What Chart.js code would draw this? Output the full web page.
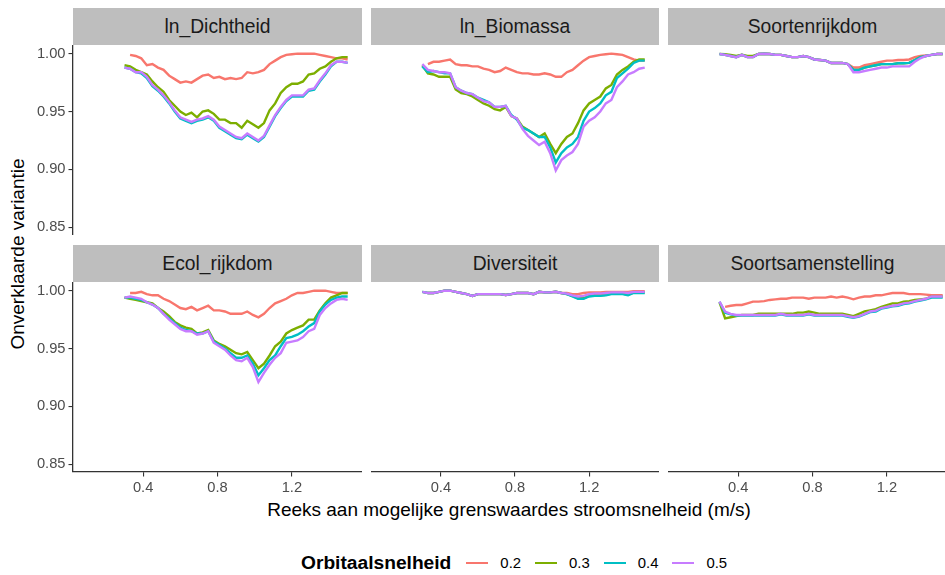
<!DOCTYPE html>
<html>
<head>
<meta charset="utf-8">
<script src="https://cdn.jsdelivr.net/npm/chart.js@4.4.1/dist/chart.umd.min.js"></script>
<style>
  html, body { margin: 0; padding: 0; background: #ffffff; }
  body { width: 945px; height: 575px; position: relative; overflow: hidden;
         font-family: "Liberation Sans", Arial, sans-serif; }
  .panel { position: absolute; }
  .strip { position: absolute; height: 37px; line-height: 37px; background: #bebebe;
           color: #1a1a1a; font-size: 19.3px; text-align: center; white-space: nowrap; overflow: hidden; }
  #ytitle { position: absolute; left: 18px; top: 254px; font-size: 19px; color: #000;
            white-space: nowrap; transform: translate(-50%, -50%) rotate(-90deg); }
  #xtitle { position: absolute; left: 509px; top: 510px; font-size: 19px; color: #000;
            white-space: nowrap; transform: translate(-50%, -50%); }
  #legend { position: absolute; left: 301px; top: 552px; height: 22px; display: flex; align-items: center; }
  #legend .ltitle { font-weight: bold; font-size: 19.2px; color: #000; margin-right: 15px; }
  #legend .key { width: 22px; height: 2.6px; margin-right: 12px; }
  #legend .lab { font-size: 14.9px; color: #000; margin-right: 14px; }
</style>
</head>
<body>
<div id="ytitle">Onverklaarde variantie</div>
<div id="xtitle">Reeks aan mogelijke grenswaardes stroomsnelheid (m/s)</div>
<div id="legend"></div>

<script>
// grens (m/s) at which every curve is evaluated
const grens = [0.30, 0.33, 0.36, 0.39, 0.42, 0.45, 0.48, 0.51, 0.54, 0.57,
               0.60, 0.63, 0.66, 0.69, 0.72, 0.75, 0.78, 0.81, 0.84, 0.87,
               0.90, 0.93, 0.96, 0.99, 1.02, 1.05, 1.08, 1.11, 1.14, 1.17,
               1.20, 1.23, 1.26, 1.29, 1.32, 1.35, 1.38, 1.41, 1.44, 1.47, 1.50];

const orbitaal = ['0.2', '0.3', '0.4', '0.5'];
const kleuren = ['#F8766D', '#7CAE00', '#00BFC4', '#C77CFF'];
const xTicks = [0.4, 0.8, 1.2];
const yTicks = [0.85, 0.90, 0.95, 1.00];

// ln_Dichtheid
const dicht02 = [null, 0.999, 0.998, 0.996, 0.990, 0.991, 0.988, 0.986, 0.981, 0.978, 0.975, 0.976, 0.975, 0.978, 0.981, 0.982, 0.979, 0.980, 0.978, 0.979, 0.978, 0.979, 0.984, 0.983, 0.984, 0.986, 0.991, 0.994, 0.997, 0.999, 0.9995, 1.000, 1.000, 1.000, 1.000, 0.999, 0.998, 0.997, 0.996, 0.996, 0.995];
const dicht03 = [0.990, 0.989, 0.986, 0.984, 0.982, 0.976, 0.971, 0.967, 0.960, 0.955, 0.950, 0.947, 0.949, 0.945, 0.950, 0.951, 0.948, 0.943, 0.943, 0.940, 0.940, 0.936, 0.942, 0.939, 0.936, 0.940, 0.951, 0.957, 0.966, 0.971, 0.974, 0.974, 0.976, 0.982, 0.983, 0.987, 0.989, 0.993, 0.996, 0.997, 0.997];
const dicht04 = [0.988, 0.987, 0.984, 0.983, 0.979, 0.972, 0.968, 0.963, 0.957, 0.950, 0.944, 0.942, 0.940, 0.942, 0.943, 0.945, 0.942, 0.936, 0.933, 0.930, 0.927, 0.926, 0.930, 0.927, 0.924, 0.928, 0.937, 0.946, 0.953, 0.959, 0.963, 0.963, 0.963, 0.968, 0.969, 0.976, 0.982, 0.989, 0.993, 0.993, 0.992];
const dicht05 = [0.988, 0.987, 0.984, 0.984, 0.980, 0.973, 0.969, 0.964, 0.958, 0.951, 0.945, 0.943, 0.941, 0.943, 0.944, 0.946, 0.943, 0.937, 0.934, 0.931, 0.928, 0.927, 0.931, 0.928, 0.925, 0.929, 0.938, 0.947, 0.954, 0.960, 0.964, 0.964, 0.964, 0.969, 0.970, 0.977, 0.983, 0.990, 0.993, 0.993, 0.992];

// ln_Biomassa
const bio02 = [null, 0.991, 0.993, 0.993, 0.994, 0.995, 0.991, 0.990, 0.990, 0.989, 0.989, 0.987, 0.986, 0.984, 0.985, 0.988, 0.986, 0.984, 0.983, 0.983, 0.982, 0.982, 0.983, 0.982, 0.980, 0.980, 0.984, 0.986, 0.990, 0.994, 0.997, 0.998, 0.999, 0.9995, 1.000, 0.9995, 0.999, 0.997, 0.995, 0.994, 0.994];
const bio03 = [0.990, 0.983, 0.982, 0.980, 0.980, 0.980, 0.969, 0.966, 0.965, 0.963, 0.960, 0.957, 0.955, 0.952, 0.951, 0.954, 0.946, 0.944, 0.937, 0.934, 0.931, 0.928, 0.931, 0.922, 0.914, 0.922, 0.928, 0.931, 0.940, 0.951, 0.957, 0.960, 0.963, 0.970, 0.973, 0.982, 0.986, 0.989, 0.993, 0.995, 0.995];
const bio04 = [0.989, 0.984, 0.985, 0.984, 0.983, 0.983, 0.971, 0.968, 0.966, 0.965, 0.962, 0.960, 0.958, 0.954, 0.954, 0.955, 0.947, 0.943, 0.936, 0.934, 0.931, 0.928, 0.928, 0.919, 0.906, 0.914, 0.919, 0.922, 0.928, 0.942, 0.950, 0.953, 0.957, 0.964, 0.967, 0.979, 0.983, 0.987, 0.992, 0.994, 0.994];
const bio05 = [0.991, 0.986, 0.985, 0.984, 0.984, 0.983, 0.971, 0.968, 0.966, 0.965, 0.962, 0.959, 0.958, 0.954, 0.954, 0.955, 0.946, 0.944, 0.935, 0.929, 0.925, 0.921, 0.924, 0.914, 0.899, 0.908, 0.912, 0.915, 0.922, 0.937, 0.942, 0.945, 0.950, 0.957, 0.960, 0.971, 0.976, 0.982, 0.984, 0.987, 0.988];

// Soortenrijkdom
const rijk02 = [null, 0.999, 0.998, 0.997, 0.999, 0.997, 0.997, 0.9997, 1.000, 0.9997, 0.999, 0.999, 0.998, 0.997, 0.997, 0.998, 0.997, 0.995, 0.9945, 0.994, 0.992, 0.992, 0.992, 0.991, 0.988, 0.988, 0.990, 0.991, 0.992, 0.993, 0.994, 0.994, 0.9945, 0.9945, 0.995, 0.997, 0.998, 0.9985, 0.999, 0.9997, 0.9997];
const rijk03 = [0.9997, 0.9995, 0.999, 0.998, 0.999, 0.998, 0.998, 0.9997, 1.000, 0.9997, 0.999, 0.999, 0.998, 0.997, 0.997, 0.998, 0.997, 0.995, 0.9945, 0.994, 0.992, 0.992, 0.992, 0.991, 0.986, 0.986, 0.988, 0.989, 0.990, 0.991, 0.991, 0.991, 0.9917, 0.9917, 0.992, 0.9945, 0.997, 0.998, 0.999, 0.9997, 0.9997];
const rijk04 = [0.9997, 0.999, 0.998, 0.997, 0.999, 0.997, 0.997, 0.9997, 1.000, 0.9997, 0.999, 0.999, 0.998, 0.997, 0.997, 0.998, 0.997, 0.995, 0.9945, 0.994, 0.992, 0.992, 0.992, 0.991, 0.986, 0.986, 0.988, 0.989, 0.990, 0.991, 0.991, 0.991, 0.9917, 0.9917, 0.992, 0.9945, 0.997, 0.998, 0.999, 0.9997, 0.9997];
const rijk05 = [0.9997, 0.999, 0.998, 0.997, 0.999, 0.997, 0.997, 0.9997, 1.000, 0.9997, 0.999, 0.999, 0.998, 0.997, 0.997, 0.998, 0.997, 0.995, 0.9945, 0.994, 0.992, 0.992, 0.992, 0.991, 0.984, 0.984, 0.985, 0.986, 0.987, 0.988, 0.988, 0.989, 0.989, 0.989, 0.989, 0.993, 0.996, 0.998, 0.999, 0.9997, 0.9997];

// Ecol_rijkdom
const ecol02 = [null, 0.998, 0.998, 0.999, 0.997, 0.996, 0.996, 0.993, 0.991, 0.988, 0.985, 0.984, 0.986, 0.983, 0.985, 0.987, 0.983, 0.983, 0.982, 0.980, 0.980, 0.980, 0.982, 0.979, 0.977, 0.980, 0.985, 0.989, 0.991, 0.993, 0.996, 0.998, 0.998, 0.999, 1.000, 1.000, 1.000, 0.999, 0.998, 0.998, 0.998];
const ecol03 = [0.994, 0.993, 0.992, 0.991, 0.990, 0.989, 0.985, 0.982, 0.978, 0.973, 0.970, 0.968, 0.967, 0.963, 0.964, 0.966, 0.957, 0.954, 0.952, 0.949, 0.946, 0.945, 0.947, 0.940, 0.933, 0.937, 0.944, 0.952, 0.956, 0.963, 0.966, 0.968, 0.970, 0.975, 0.975, 0.983, 0.989, 0.994, 0.996, 0.998, 0.998];
const ecol04 = [0.994, 0.994, 0.993, 0.992, 0.990, 0.988, 0.985, 0.980, 0.976, 0.972, 0.968, 0.966, 0.965, 0.963, 0.963, 0.965, 0.956, 0.953, 0.950, 0.946, 0.942, 0.942, 0.944, 0.937, 0.927, 0.933, 0.940, 0.944, 0.952, 0.959, 0.960, 0.962, 0.965, 0.969, 0.972, 0.982, 0.988, 0.992, 0.994, 0.995, 0.995];
const ecol05 = [0.994, 0.995, 0.994, 0.993, 0.990, 0.988, 0.985, 0.980, 0.975, 0.971, 0.967, 0.965, 0.965, 0.962, 0.963, 0.965, 0.955, 0.952, 0.949, 0.944, 0.940, 0.939, 0.942, 0.934, 0.921, 0.929, 0.936, 0.942, 0.946, 0.955, 0.956, 0.957, 0.960, 0.965, 0.967, 0.979, 0.985, 0.989, 0.992, 0.993, 0.992];

// Diversiteit
const div02 = [null, 0.998, 0.998, 0.999, 1.000, 1.000, 0.999, 0.998, 0.997, 0.9955, 0.997, 0.997, 0.997, 0.997, 0.997, 0.9963, 0.997, 0.998, 0.998, 0.998, 0.997, 0.999, 0.9985, 0.9985, 0.999, 0.998, 0.998, 0.997, 0.997, 0.998, 0.9985, 0.9985, 0.9985, 0.999, 0.999, 0.999, 0.999, 0.999, 0.9995, 0.9995, 0.9995];
const div03 = [0.999, 0.998, 0.998, 0.999, 1.000, 1.000, 0.999, 0.998, 0.997, 0.9955, 0.997, 0.997, 0.997, 0.997, 0.997, 0.9963, 0.997, 0.998, 0.998, 0.998, 0.997, 0.999, 0.9985, 0.9985, 0.999, 0.998, 0.997, 0.9955, 0.9935, 0.9935, 0.9955, 0.996, 0.996, 0.9965, 0.9975, 0.9975, 0.9975, 0.9965, 0.9985, 0.9985, 0.9985];
const div04 = [0.999, 0.998, 0.998, 0.999, 1.000, 1.000, 0.999, 0.998, 0.997, 0.9955, 0.997, 0.997, 0.997, 0.997, 0.997, 0.9963, 0.997, 0.998, 0.998, 0.998, 0.997, 0.999, 0.9985, 0.9985, 0.999, 0.998, 0.997, 0.995, 0.993, 0.993, 0.995, 0.9955, 0.9955, 0.996, 0.997, 0.997, 0.997, 0.996, 0.998, 0.998, 0.998];
const div05 = [0.999, 0.998, 0.998, 0.999, 1.000, 1.000, 0.999, 0.998, 0.997, 0.9955, 0.997, 0.997, 0.997, 0.997, 0.997, 0.9963, 0.997, 0.998, 0.998, 0.998, 0.997, 0.999, 0.9985, 0.9985, 0.999, 0.998, 0.9975, 0.996, 0.995, 0.9955, 0.997, 0.9975, 0.9975, 0.998, 0.9985, 0.9985, 0.9985, 0.998, 0.999, 0.999, 0.999];

// Soortsamenstelling
const samen02 = [null, 0.986, 0.987, 0.9876, 0.9876, 0.989, 0.9905, 0.9905, 0.991, 0.992, 0.9925, 0.993, 0.993, 0.994, 0.994, 0.994, 0.993, 0.994, 0.994, 0.994, 0.995, 0.994, 0.995, 0.994, 0.9925, 0.994, 0.995, 0.995, 0.996, 0.996, 0.997, 0.998, 0.998, 0.998, 0.997, 0.997, 0.997, 0.9966, 0.996, 0.996, 0.996];
const samen03 = [0.990, 0.976, 0.977, 0.978, 0.979, 0.979, 0.979, 0.980, 0.980, 0.980, 0.980, 0.980, 0.980, 0.980, 0.981, 0.981, 0.982, 0.981, 0.980, 0.980, 0.980, 0.980, 0.980, 0.979, 0.978, 0.980, 0.982, 0.983, 0.984, 0.986, 0.9876, 0.989, 0.989, 0.9905, 0.991, 0.992, 0.9925, 0.993, 0.995, 0.995, 0.995];
const samen04 = [0.9905, 0.981, 0.9795, 0.9785, 0.9785, 0.9785, 0.9785, 0.9785, 0.9785, 0.9785, 0.9785, 0.9795, 0.9785, 0.9785, 0.9785, 0.9785, 0.9795, 0.9785, 0.9785, 0.9785, 0.9785, 0.9785, 0.9785, 0.9775, 0.9765, 0.9775, 0.9795, 0.9815, 0.982, 0.9845, 0.9855, 0.9865, 0.987, 0.9885, 0.989, 0.9905, 0.9915, 0.9925, 0.994, 0.994, 0.994];
const samen05 = [0.9905, 0.982, 0.980, 0.979, 0.979, 0.979, 0.979, 0.979, 0.979, 0.979, 0.979, 0.980, 0.979, 0.979, 0.979, 0.979, 0.980, 0.979, 0.979, 0.979, 0.979, 0.979, 0.979, 0.978, 0.977, 0.978, 0.980, 0.982, 0.9827, 0.985, 0.986, 0.987, 0.9876, 0.989, 0.9897, 0.991, 0.992, 0.993, 0.995, 0.995, 0.995];

const FONT = '"Liberation Sans", Arial, sans-serif';
const AXIS = '#333333';

// facet grid: two rows of three panels, axes only on the outer edges
const panels = [
  { name: 'ln_Dichtheid',       series: [dicht02, dicht03, dicht04, dicht05], left: 0,   top: 45,  width: 362, yAxis: true,  xAxis: false, stripLeft: 73 },
  { name: 'ln_Biomassa',        series: [bio02, bio03, bio04, bio05],         left: 371, top: 45,  width: 288, yAxis: false, xAxis: false, stripLeft: 371 },
  { name: 'Soortenrijkdom',     series: [rijk02, rijk03, rijk04, rijk05],     left: 668, top: 45,  width: 289, yAxis: false, xAxis: false, stripLeft: 668 },
  { name: 'Ecol_rijkdom',       series: [ecol02, ecol03, ecol04, ecol05],     left: 0,   top: 282, width: 362, yAxis: true,  xAxis: true,  stripLeft: 73 },
  { name: 'Diversiteit',        series: [div02, div03, div04, div05],         left: 371, top: 282, width: 288, yAxis: false, xAxis: true,  stripLeft: 371 },
  { name: 'Soortsamenstelling', series: [samen02, samen03, samen04, samen05], left: 668, top: 282, width: 289, yAxis: false, xAxis: true,  stripLeft: 668 }
];

const PLOT_H = 190;
const Y_AXIS_W = 73;
const X_AXIS_H = 32;

panels.forEach(p => {
  p.series.forEach(s => { if (s.length !== grens.length) throw new Error(p.name + ' length ' + s.length); });

  // strip header above the panel
  const strip = document.createElement('div');
  strip.className = 'strip';
  strip.style.left = p.stripLeft + 'px';
  strip.style.top = (p.top - 37) + 'px';
  strip.style.width = (p.left + p.width - p.stripLeft) + 'px';
  strip.textContent = p.name;
  document.body.appendChild(strip);

  const wrap = document.createElement('div');
  wrap.className = 'panel';
  const h = PLOT_H + (p.xAxis ? X_AXIS_H : 0);
  wrap.style.left = p.left + 'px';
  wrap.style.top = p.top + 'px';
  wrap.style.width = p.width + 'px';
  wrap.style.height = h + 'px';
  const canvas = document.createElement('canvas');
  canvas.width = p.width;
  canvas.height = h;
  wrap.appendChild(canvas);
  document.body.appendChild(wrap);

  new Chart(canvas.getContext('2d'), {
    type: 'line',
    data: {
      datasets: p.series.map((vals, i) => ({
        label: orbitaal[i],
        data: grens.map((g, j) => ({ x: g, y: vals[j] })),
        borderColor: kleuren[i],
        backgroundColor: kleuren[i],
        borderWidth: 2.4,
        pointRadius: 0,
        tension: 0,
        order: 3 - i
      }))
    },
    options: {
      responsive: false,
      animation: false,
      layout: { padding: 0 },
      plugins: { legend: { display: false }, tooltip: { enabled: false } },
      scales: {
        x: {
          type: 'linear',
          min: 0.023,
          max: 1.577,
          display: p.xAxis,
          afterBuildTicks: s => { s.ticks = xTicks.map(v => ({ value: v })); },
          afterFit: s => {
            if (!p.xAxis) return;
            s.height = X_AXIS_H; s.paddingLeft = 0; s.paddingRight = 0;
          },
          grid: { drawOnChartArea: false, drawTicks: true, tickLength: 4.5, color: AXIS, lineWidth: 1.1 },
          border: { display: true, color: AXIS, width: 1.3 },
          ticks: { color: '#4d4d4d', font: { family: FONT, size: 14.7 }, padding: 3,
                   maxRotation: 0, autoSkip: false, callback: v => Number(v).toFixed(1) }
        },
        y: {
          type: 'linear',
          min: 0.8433,
          max: 1.0075,
          display: p.yAxis,
          afterBuildTicks: s => { s.ticks = yTicks.map(v => ({ value: v })); },
          afterFit: s => {
            if (!p.yAxis) return;
            s.width = Y_AXIS_W; s.paddingTop = 0; s.paddingBottom = 0;
          },
          grid: { drawOnChartArea: false, drawTicks: true, tickLength: 4.5, color: AXIS, lineWidth: 1.1 },
          border: { display: true, color: AXIS, width: 1.3 },
          ticks: { color: '#4d4d4d', font: { family: FONT, size: 14.7 }, padding: 3,
                   autoSkip: false, callback: v => Number(v).toFixed(2) }
        }
      }
    }
  });
});

// legend row
const legend = document.getElementById('legend');
const lt = document.createElement('span');
lt.className = 'ltitle';
lt.textContent = 'Orbitaalsnelheid';
legend.appendChild(lt);
orbitaal.forEach((lab, i) => {
  const key = document.createElement('span');
  key.className = 'key';
  key.style.background = kleuren[i];
  legend.appendChild(key);
  const t = document.createElement('span');
  t.className = 'lab';
  t.textContent = lab;
  legend.appendChild(t);
});
</script>
</body>
</html>
